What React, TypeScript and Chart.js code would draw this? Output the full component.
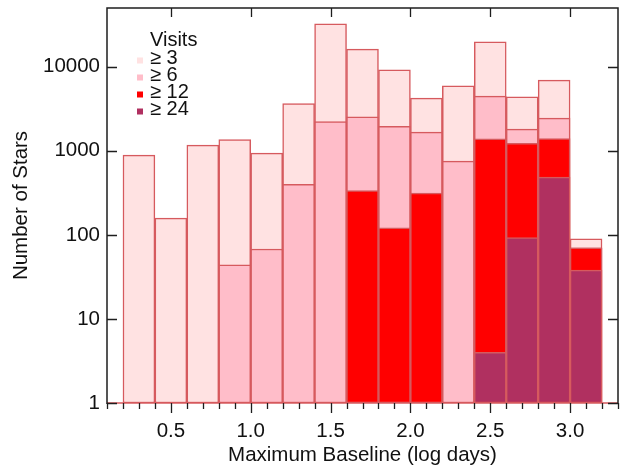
import React, { useEffect, useRef } from "react";
import { Chart, registerables } from "chart.js";

Chart.register(...registerables);

// Histogram bins (centre of each 0.2-wide log-day bin)
const binCenters = [0.3, 0.5, 0.7, 0.9, 1.1, 1.3, 1.5, 1.7, 1.9, 2.1, 2.3, 2.5, 2.7, 2.9, 3.1];

// Number of stars per bin for each minimum-visits threshold
const visits3 = [890, 158, 1170, 1360, 940, 3650, 32500, 16200, 9200, 4240, 5940, 19800, 4400, 6940, 90];
const visits6 = [null, null, null, 44, 68, 400, 2230, 2540, 1950, 1670, 754, 4480, 1810, 2450, 70];
const visits12 = [null, null, null, null, null, null, null, 337, 121, 314, null, 1390, 1230, 1400, 70];
const visits24 = [null, null, null, null, null, null, null, null, null, null, null, 4, 93, 486, 38];

const seriesLabels = ["\u2265 3", "\u2265 6", "\u2265 12", "\u2265 24"];
const seriesColors = ["#FFE2E2", "#FFBDC9", "#FF0000", "#B03060"];
const legendTitle = "Visits";

const xTickValues = [0.5, 1.0, 1.5, 2.0, 2.5, 3.0];
const xMinorTickValues = [0.1, 0.2, 0.3, 0.4, 0.6, 0.7, 0.8, 0.9, 1.1, 1.2, 1.3, 1.4, 1.6, 1.7, 1.8, 1.9, 2.1, 2.2, 2.3, 2.4, 2.6, 2.7, 2.8, 2.9, 3.1, 3.2, 3.3];
const yTickValues = [1, 10, 100, 1000, 10000];

const xTitle = "Maximum Baseline (log days)";
const yTitle = "Number of Stars";

const FONT_FAMILY = '"Liberation Sans", Arial, Helvetica, sans-serif';
const TEXT_COLOR = "#111111";
const EDGE_COLOR = "#D65A5E";

const framePlugin = {
  id: "frame",
  afterDatasetsDraw(chart: any) {
    const { ctx, chartArea, scales } = chart;
    const { left, right, top, bottom } = chartArea;
    const x = scales.x;
    const y = scales.y;
    ctx.save();
    ctx.strokeStyle = EDGE_COLOR;
    ctx.lineWidth = 1.5;
    ctx.beginPath();
    ctx.moveTo(left, bottom);
    ctx.lineTo(right, bottom);
    ctx.stroke();
    ctx.strokeStyle = "#1e1e1e";
    ctx.lineWidth = 1.5;
    ctx.beginPath();
    ctx.moveTo(left, bottom + 1);
    ctx.lineTo(left, top);
    ctx.lineTo(right, top);
    ctx.lineTo(right, bottom + 1);
    ctx.stroke();
    ctx.lineWidth = 1.3;
    ctx.beginPath();
    for (const v of xMinorTickValues) {
      const px = Math.round(x.getPixelForValue(v)) + 0.5;
      ctx.moveTo(px, bottom);
      ctx.lineTo(px, bottom + 6);
    }
    for (const v of xTickValues) {
      const px = Math.round(x.getPixelForValue(v)) + 0.5;
      ctx.moveTo(px, bottom);
      ctx.lineTo(px, bottom + 10);
      ctx.moveTo(px, top);
      ctx.lineTo(px, top + 9);
    }
    for (const v of yTickValues) {
      const py = Math.round(y.getPixelForValue(v)) + 0.5;
      ctx.moveTo(left, py);
      ctx.lineTo(left + 10, py);
      ctx.moveTo(right, py);
      ctx.lineTo(right - 10, py);
    }
    ctx.stroke();
    ctx.restore();
  },
};

const legendPlugin = {
  id: "visitsLegend",
  afterDraw(chart: any) {
    const { ctx } = chart;
    ctx.save();
    ctx.font = `20px ${FONT_FAMILY}`;
    ctx.fillStyle = TEXT_COLOR;
    ctx.textBaseline = "alphabetic";
    ctx.textAlign = "left";
    ctx.fillText(legendTitle, 150, 46);
    chart.data.datasets.forEach((ds: any, i: number) => {
      ctx.fillStyle = ds.backgroundColor;
      ctx.fillRect(137, 57.5 + 17 * i, 6, 6);
      ctx.fillStyle = TEXT_COLOR;
      ctx.fillText(ds.label, 150, 64 + 17 * i);
    });
    ctx.restore();
  },
};

const seriesValues = [visits3, visits6, visits12, visits24];

export default function App() {
  const canvasRef = useRef<HTMLCanvasElement | null>(null);

  useEffect(() => {
    if (!canvasRef.current) return;
    const font = { family: FONT_FAMILY, size: 20.5 };
    const datasets = seriesValues.map((vals, i) => ({
      label: seriesLabels[i],
      data: binCenters.map((c, j) => ({ x: c, y: vals[j] })),
      backgroundColor: seriesColors[i],
      borderColor: EDGE_COLOR,
      borderWidth: 1.5,
      borderSkipped: false,
      order: seriesValues.length - i,
    }));
    const chart = new Chart(canvasRef.current, {
      type: "bar",
      data: { datasets } as any,
      plugins: [framePlugin, legendPlugin],
      options: {
        responsive: false,
        animation: false,
        layout: { padding: { left: 0, right: 2, top: 8, bottom: 0 } },
        plugins: { legend: { display: false }, tooltip: { enabled: false } },
        datasets: { bar: { grouped: false, barPercentage: 1, categoryPercentage: 1 } } as any,
        scales: {
          x: {
            type: "linear",
            min: 0.1,
            max: 3.3,
            offset: false,
            grid: { display: false, drawTicks: false, offset: false },
            border: { display: false },
            afterBuildTicks: (s: any) => {
              s.ticks = xTickValues.map((v) => ({ value: v }));
            },
            afterFit: (s: any) => {
              s.height = 63;
              s.paddingLeft = 0;
              s.paddingRight = 0;
            },
            ticks: {
              callback: (v: any) => Number(v).toFixed(1),
              padding: 16,
              font,
              color: TEXT_COLOR,
              maxRotation: 0,
              autoSkip: false,
            },
            title: { display: true, text: xTitle, font, color: TEXT_COLOR, padding: { top: 0, bottom: -2 } },
          },
          y: {
            type: "logarithmic",
            min: 1,
            max: 50000,
            grid: { display: false, drawTicks: false },
            border: { display: false },
            afterBuildTicks: (s: any) => {
              s.ticks = yTickValues.map((v) => ({ value: v }));
            },
            afterFit: (s: any) => {
              s.width = 107;
              s.paddingTop = 0;
              s.paddingBottom = 0;
            },
            ticks: {
              callback: (v: any) => String(v),
              padding: 7,
              font,
              color: TEXT_COLOR,
              autoSkip: false,
            },
            title: { display: true, text: yTitle, font, color: TEXT_COLOR, padding: { top: 9, bottom: 0 } },
          },
        },
      } as any,
    });
    return () => chart.destroy();
  }, []);

  return (
    <div style={{ position: "absolute", left: 0, top: 0, width: 620, height: 466, background: "#fff" }}>
      <canvas ref={canvasRef} width={620} height={466} style={{ display: "block" }} />
    </div>
  );
}
